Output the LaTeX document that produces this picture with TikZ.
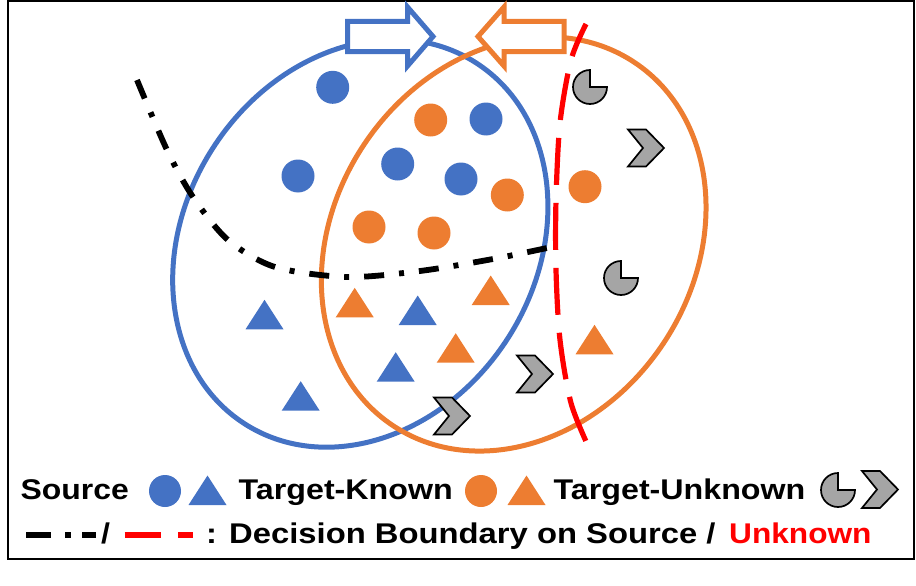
\documentclass[tikz,border=0pt]{standalone}
\usepackage{fontspec}
\setmainfont{Liberation Sans}
\definecolor{cblue}{RGB}{68,114,196}
\definecolor{corange}{RGB}{237,125,49}
\definecolor{cgray}{RGB}{165,165,165}
\definecolor{cred}{RGB}{255,0,0}
\begin{document}
\begin{tikzpicture}[x=1pt,y=-1pt,
  bluering/.style={draw=cblue,line width=5pt},
  orangering/.style={draw=corange,line width=5pt},
  bigarrow/.style={fill=white,line width=5pt,line join=miter,miter limit=10},
  unkshape/.style={fill=cgray,draw=black,line width=1.7pt,line join=miter},
  lgtext/.style={anchor=base west,inner sep=0pt,font=\fontsize{28.5}{30}\selectfont\bfseries},
  srcline/.style={draw=black,line width=5.8pt,dash pattern=on 20pt off 15pt on 5pt off 15pt},
  unkline/.style={draw=cred,line width=5.2pt,dash pattern=on 47pt off 18pt,dash phase=12pt},
  tri/.pic={\fill[#1] (-19,0) -- (0,-29.5) -- (19,0) -- cycle;},
  chev/.pic={\path[unkshape] (-18,-18.5) -- (0,-18.5) -- (18,0) -- (0,18.5) -- (-18,18.5) -- (-3,0) -- cycle;},
  pac/.pic={\path[unkshape] (0,0) -- (17,0) arc[start angle=0,end angle=270,radius=17] -- cycle;}
]
\useasboundingbox (0,0) rectangle (916,586);
\draw[line width=2pt] (7.7,1.2) rectangle (914.3,559.3);

% ellipses
\draw[bluering,rotate around={57.4:(360.3,243.3)}] (360.3,243.3) ellipse [x radius=214.4,y radius=175.5];
\draw[orangering,rotate around={56.3:(513.7,244)}] (513.7,244) ellipse [x radius=218.1,y radius=179.7];

% arrows
\draw[bigarrow,draw=cblue] (347.5,21.3) -- (407.5,21.3) -- (407.5,7) -- (433,36.5) -- (407.5,66) -- (407.5,51.7) -- (347.5,51.7) -- cycle;
\draw[bigarrow,draw=corange] (564,21.3) -- (504,21.3) -- (504,7) -- (478,36.5) -- (504,66) -- (504,51.7) -- (564,51.7) -- cycle;

% decision boundaries
\draw[srcline] plot[smooth] coordinates {(137,80) (167,150) (193,197) (228,240) (275,267) (347,277) (420,271) (493,259) (547,248)};
\draw[unkline] plot[smooth] coordinates {(586,24) (571,60) (560,123) (556,200) (556,270) (560,340) (571,403) (589,448)};

% circles
\foreach \p in {(332.7,87.3),(298,176),(397.7,164),(486,119),(461,179)}
  \fill[cblue] \p circle[radius=16.5];
\foreach \p in {(430.7,120),(507.3,195),(369,227),(434,233),(585,186.7)}
  \fill[corange] \p circle[radius=16.5];

% triangles (base centre)
\pic at (264.5,329.3) {tri=cblue};
\pic at (417.7,325) {tri=cblue};
\pic at (395.7,381.7) {tri=cblue};
\pic at (300.7,410.7) {tri=cblue};
\pic at (354.7,317.3) {tri=corange};
\pic at (490.7,305) {tri=corange};
\pic at (455.7,362.7) {tri=corange};
\pic at (594.5,354.3) {tri=corange};

% unknown
\pic at (535,374) {chev};
\pic at (452,416) {chev};
\pic at (646,148) {chev};
\pic at (590,87) {pac};
\pic at (621,278) {pac};

% legend row 1
\node[lgtext] (lsrc) at (20.5,499.5) {\scalebox{1.12}[1]{Source}};
\fill[cblue] (165,491) circle[radius=16];
\pic at (207.5,505) {tri=cblue};
\node[lgtext] (ltk) at (238.5,499.5) {\scalebox{1.13}[1]{Target-Known}};
\fill[corange] (481,491) circle[radius=16];
\pic at (526.5,505) {tri=corange};
\node[lgtext] (ltu) at (553.5,499.5) {\scalebox{1.13}[1]{Target-Unknown}};
\pic at (838,490) {pac};
\pic at (880,489.5) {chev};

% legend row 2
\draw[line width=5.5pt] (26,535) -- (51,535) (65,535) -- (71,535) (82,535) -- (96,535);
\node[lgtext] (lsl) at (101,543) {\scalebox{1.13}[1]{/}};
\draw[cred,line width=5.5pt] (124.5,535) -- (160.5,535) (178,535) -- (193,535);
\node[lgtext] (ldb) at (206,543) {\scalebox{1.15}[1]{: Decision Boundary on Source /}};
\node[lgtext,text=cred] (lunk) at (729,543) {\scalebox{1.11}[1]{Unknown}};
\end{tikzpicture}
\end{document}
